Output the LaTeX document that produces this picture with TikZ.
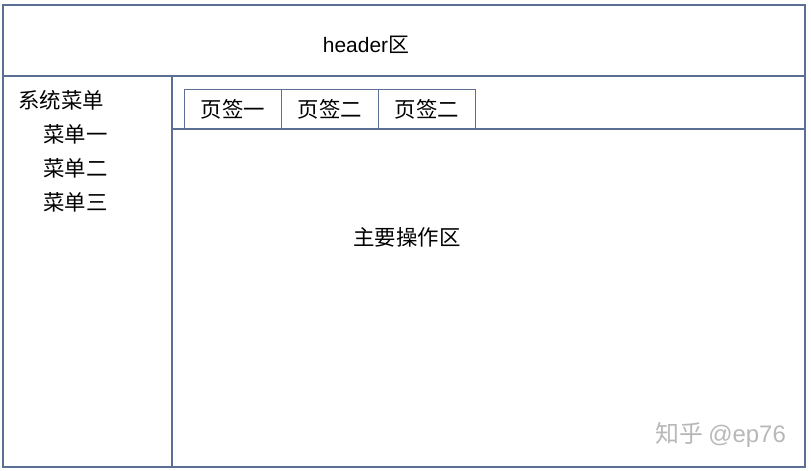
\documentclass[tikz,border=0pt]{standalone}
\usepackage{fontspec}
\setmainfont{Noto Sans CJK SC}
\newfontfamily\lat{Liberation Sans}
\definecolor{frame}{HTML}{5B6E93}
\definecolor{wm}{HTML}{B8B8B8}
\begin{document}
\begin{tikzpicture}[x=1bp,y=-1bp,
  box/.style={draw=frame,line width=1.1bp},
  lbl/.style={inner sep=0pt,font=\fontsize{21.5}{24}\selectfont,text=black},
  tab/.style={draw=frame,line width=1bp,minimum width=97bp,minimum height=40bp,inner sep=0pt,anchor=north west,font=\fontsize{21.5}{24}\selectfont}]
\useasboundingbox (0,0) rectangle (811,471);
\fill[white] (0,0) rectangle (811,471);
% frame
\draw[box] (3,5) rectangle (805,467);
\draw[box] (3,76) -- (805,76);
\draw[box] (172,76) -- (172,467);
\draw[box] (172,129) -- (805,129);
% header
\node[lbl,font=\fontsize{21}{24}\selectfont] (hdr) at (366,45) {{\lat header}区};
% sidebar
\node[lbl,anchor=west] (sys) at (18,100) {系统菜单};
\node[lbl,anchor=west] (m1) at (43,134) {菜单一};
\node[lbl,anchor=west] (m2) at (43,168) {菜单二};
\node[lbl,anchor=west] (m3) at (43,202) {菜单三};
% tabs
\node[tab] (t1) at (184,89) {页签一};
\node[tab] (t2) at (281,89) {页签二};
\node[tab] (t3) at (378,89) {页签二};
% main
\node[lbl] (main) at (407,237) {主要操作区};
% watermark
\node[inner sep=0pt,font=\fontsize{24}{26}\selectfont,text=wm,anchor=west] (wmk) at (655,435) {知乎 {\lat @ep76}};
\end{tikzpicture}
\end{document}
